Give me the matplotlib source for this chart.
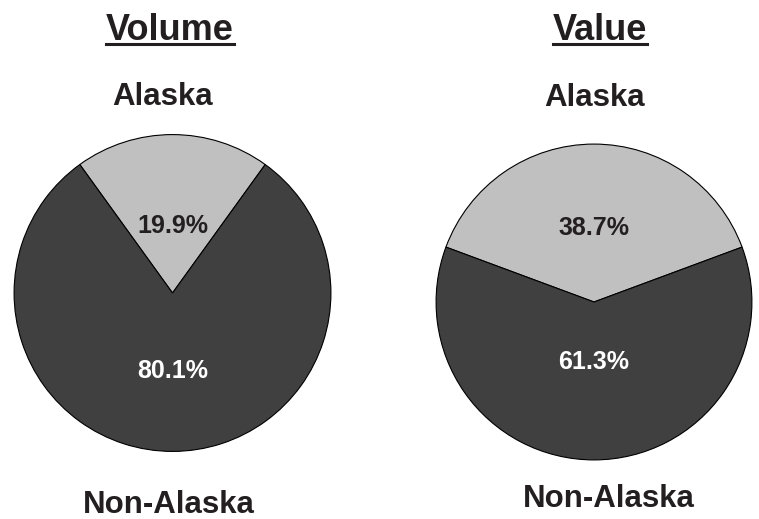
import matplotlib.pyplot as plt
from matplotlib.lines import Line2D

plt.rcParams['font.family'] = ['Liberation Sans', 'DejaVu Sans']

slice_labels = ['Alaska', 'Non-Alaska']
volume_share = [19.9, 80.1]
value_share = [38.7, 61.3]
titles = ['Volume', 'Value']

colors = ['#c0c0c0', '#404040']
text_dark = '#231f20'

W, H = 759, 519
fig = plt.figure(figsize=(W / 100, H / 100), dpi=100)


def px(x, y):
    # pixel coords (from top-left) -> figure fraction
    return x / W, 1 - y / H


def draw_pie(share, cx, cy, r, pct_dist):
    x0, y1 = px(cx - r, cy + r)
    ax = fig.add_axes([x0, y1, 2 * r / W, 2 * r / H])
    start = 90 - share[0] * 3.6 / 2
    wedges, texts, autotexts = ax.pie(
        share, colors=colors, startangle=start, counterclock=True,
        autopct='%.1f%%', pctdistance=1.0,
        wedgeprops=dict(edgecolor='black', linewidth=0.8))
    for t, d, c in zip(autotexts, pct_dist, [text_dark, 'white']):
        x, y = t.get_position()
        t.set_position((x * d, y * d))
        t.set_color(c)
        t.set_fontsize(18)
        t.set_fontweight('bold')
    ax.set_xlim(-1.01, 1.01)
    ax.set_ylim(-1.01, 1.01)
    return ax


draw_pie(volume_share, 172.5, 293, 160, [0.42, 0.49])
draw_pie(value_share, 594, 302, 159.5, [0.47, 0.38])


def label(text, x, y_base, size):
    fx, fy = px(x, y_base)
    return fig.text(fx, fy, text, ha='center', va='baseline', fontsize=size,
                    fontweight='bold', color=text_dark)


# titles with underline
for t, x in zip(titles, [170, 600]):
    txt = label(t, x, 40, 26)
    fig.canvas.draw()
    bb = txt.get_window_extent()
    ly = 1 - 44 / H
    fig.add_artist(Line2D([bb.x0 / W, bb.x1 / W], [ly, ly], color=text_dark,
                          linewidth=2.2, transform=fig.transFigure))

label(slice_labels[0], 163, 105, 22.5)
label(slice_labels[0], 595, 106, 22.5)
label(slice_labels[1], 169, 513, 22.5)
label(slice_labels[1], 609, 507, 22.5)

fig.savefig('out.png', dpi=100)
